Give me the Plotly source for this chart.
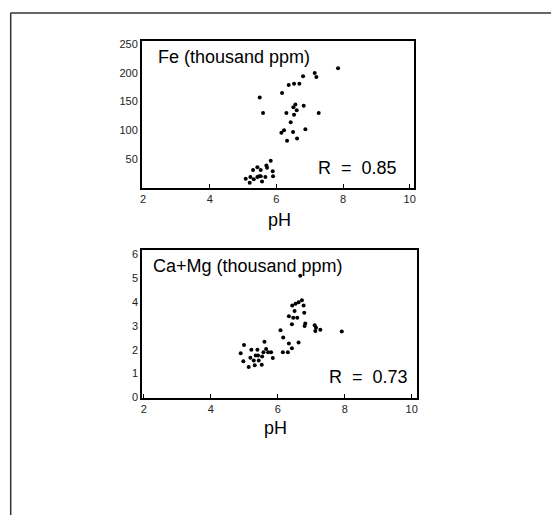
import plotly.graph_objects as go

# Fe panel data (pH, Fe thousand ppm)
fe_ph = [5.50, 5.60, 6.17, 6.37, 6.53, 6.69, 6.80, 7.15, 7.20, 7.27, 6.30, 6.43, 6.51, 6.57,
         6.53, 6.61, 6.82, 6.15, 6.23, 6.32, 6.50, 6.62, 6.87, 7.85,
         5.08, 5.22, 5.20, 5.32, 5.30, 5.43, 5.53, 5.43, 5.53, 5.57, 5.67, 5.70, 5.72, 5.83,
         5.89, 5.90, 5.48]
fe_val = [157, 130, 165, 179, 181, 181, 194, 200, 193, 130, 130, 114, 140, 145,
          127, 135, 143, 96, 100, 82, 97, 86, 102, 208,
          16, 19, 9, 15, 31, 36, 31, 19, 20, 11, 19, 39, 35, 47,
          29, 20, 20]

# Ca+Mg panel data (pH, Ca+Mg thousand ppm)
camg_ph = [4.89, 4.99, 4.97, 5.13, 5.18, 5.21, 5.28, 5.31, 5.34, 5.39, 5.41, 5.43, 5.52, 5.53,
           5.57, 5.60, 5.65, 5.71, 5.80, 5.85, 6.08, 6.16, 6.15, 6.30, 6.33, 6.42, 6.62,
           6.33, 6.42, 6.46, 6.58, 6.50, 6.43, 6.53, 6.62, 6.72, 6.77, 6.79, 6.82, 6.80,
           6.67, 7.10, 7.14, 7.12, 7.27, 7.91]
camg_val = [1.85, 2.19, 1.52, 1.28, 1.66, 2.00, 1.55, 1.35, 1.76, 2.00, 1.76, 1.55, 1.37, 1.71,
            1.89, 2.33, 2.03, 1.89, 1.89, 1.65, 2.81, 2.51, 1.89, 1.89, 2.26, 2.06, 2.30,
            3.40, 3.06, 3.33, 3.33, 3.61, 3.84, 3.92, 3.98, 4.06, 3.84, 3.54, 3.09, 2.99,
            5.09, 3.02, 2.92, 2.78, 2.83, 2.76]

x_ticks = [2, 4, 6, 8, 10]
fe_ticks = [50, 100, 150, 200, 250]
camg_ticks = [0, 1, 2, 3, 4, 5, 6]

# page body has an 8px margin, so the figure is drawn inside it
OFF = 8
W, H = 559 - 2 * OFF, 529 - 2 * OFF
def px(x): return (x - OFF) / W
def py(y): return 1 - (y - OFF) / H

fig = go.Figure()
fig.add_trace(go.Scatter(x=fe_ph, y=fe_val, mode="markers",
                         marker=dict(color="black", size=4), xaxis="x", yaxis="y",
                         showlegend=False))
fig.add_trace(go.Scatter(x=camg_ph, y=camg_val, mode="markers",
                         marker=dict(color="black", size=4), xaxis="x2", yaxis="y2",
                         showlegend=False))

tickfont = dict(family="Liberation Sans, Arial", size=11, color="#222")
axis_common = dict(showgrid=False, zeroline=False, showline=True, linecolor="black",
                   linewidth=2, mirror=True, tickcolor="black", tickfont=tickfont)
xax = dict(ticks="inside", ticklen=4, **axis_common)
yax = dict(ticks="", **axis_common)

fig.update_layout(
    width=W, height=H, margin=dict(l=0, r=0, t=0, b=0),
    paper_bgcolor="white", plot_bgcolor="white",
    xaxis=dict(domain=[px(140.8), px(414.6)], range=[1.97, 10.14], tickvals=x_ticks,
               anchor="y", **xax),
    yaxis=dict(domain=[py(188), py(38.8)], range=[0, 255], tickvals=fe_ticks,
               anchor="x", **yax),
    xaxis2=dict(domain=[px(141), px(417)], range=[1.95, 10.15], tickvals=x_ticks,
                anchor="y2", **xax),
    yaxis2=dict(domain=[py(401.5), py(251.5)], range=[0, 6.15], tickvals=camg_ticks,
                anchor="x2", **yax),
)

lab = dict(family="Liberation Sans, Arial", size=18, color="black")
anns = [
    dict(text="Fe (thousand ppm)", x=px(155), y=py(55), xanchor="left"),
    dict(text="R  =  0.85", x=px(399), y=py(167.5), xanchor="right"),
    dict(text="Ca+Mg (thousand ppm)", x=px(150), y=py(268), xanchor="left"),
    dict(text="R  =  0.73", x=px(410), y=py(381), xanchor="right"),
    dict(text="pH", x=px(279), y=py(221), xanchor="center"),
    dict(text="pH", x=px(275), y=py(432), xanchor="center"),
]
for a in anns:
    fig.add_annotation(xref="paper", yref="paper", yanchor="middle", showarrow=False,
                       font=lab, **a)

# outer frame lines of the scanned page
fig.add_shape(type="line", xref="paper", yref="paper", x0=px(8.5), x1=px(556),
              y0=py(10), y1=py(10), line=dict(color="#333", width=1.5))
fig.add_shape(type="line", xref="paper", yref="paper", x0=px(8.7), x1=px(8.7),
              y0=py(10), y1=py(521), line=dict(color="#333", width=1.5))

fig.write_html("out.html")
